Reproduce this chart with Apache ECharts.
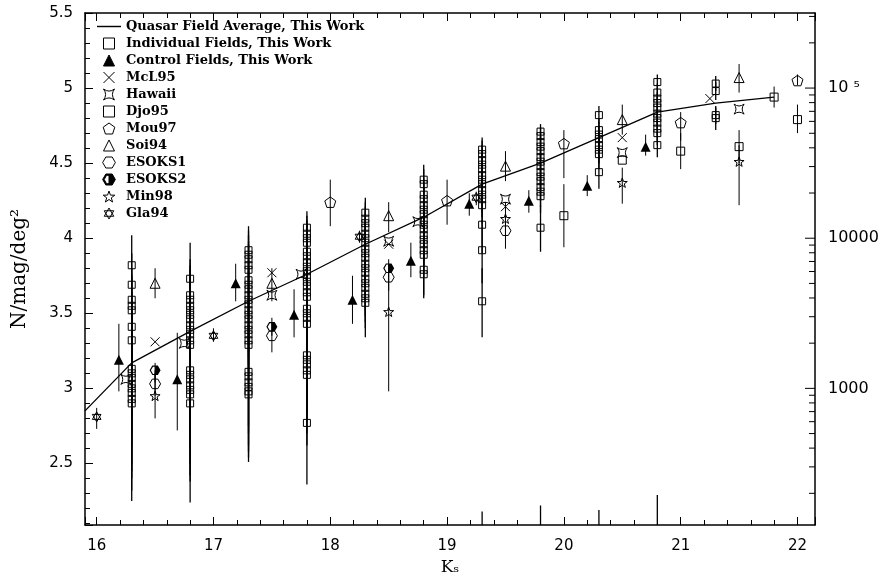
<!DOCTYPE html>
<html>
<head>
<meta charset="utf-8">
<script src="https://cdn.jsdelivr.net/npm/echarts@6/dist/echarts.min.js"></script>
<style>
  html, body { margin: 0; padding: 0; background: #fff; }
  #chart-container { width: 883px; height: 576px; }
</style>
</head>
<body>
<div id="chart-container"></div>
<script>
var dom = document.getElementById("chart-container");
var myChart = echarts.init(dom, null, { renderer: "canvas" });

// each point: [Ks, log N, error low, error high]
var quasarAverage = [
  [15.9, 2.85], [16.3, 3.17], [16.8, 3.38], [17.3, 3.58], [17.8, 3.76],
  [18.3, 3.96], [18.8, 4.14], [19.3, 4.36], [19.8, 4.50], [20.3, 4.67],
  [20.8, 4.84], [21.3, 4.90], [21.8, 4.94]
];

var individualFields = [
  [16.3, 3.82, 3.62, 4.02], [16.3, 3.69, 3.48, 3.90], [16.3, 3.59, 3.38, 3.80], [16.3, 3.55, 3.34, 3.76],
  [16.3, 3.52, 3.30, 3.74], [16.3, 3.41, 3.17, 3.64], [16.3, 3.32, 3.06, 3.56], [16.3, 3.13, 2.78, 3.46],
  [16.3, 3.10, 2.70, 3.46], [16.3, 3.07, 2.62, 3.48], [16.3, 3.03, 2.50, 3.50], [16.3, 3.00, 2.40, 3.54],
  [16.3, 2.97, 2.25, 3.62], [16.3, 2.93, 2.45, 3.38], [16.3, 2.90, 2.32, 3.42],
  [16.8, 3.73, 3.48, 3.97], [16.8, 3.62, 3.38, 3.86], [16.8, 3.59, 3.35, 3.82], [16.8, 3.55, 3.30, 3.79],
  [16.8, 3.52, 3.27, 3.76], [16.8, 3.49, 3.24, 3.73], [16.8, 3.46, 3.20, 3.71], [16.8, 3.42, 3.16, 3.68],
  [16.8, 3.39, 3.12, 3.65], [16.8, 3.36, 3.08, 3.63], [16.8, 3.32, 3.04, 3.60], [16.8, 3.29, 3.00, 3.58],
  [16.8, 3.12, 2.74, 3.48], [16.8, 3.09, 2.68, 3.48], [16.8, 3.06, 2.60, 3.50], [16.8, 3.02, 2.50, 3.52],
  [16.8, 2.99, 2.42, 3.54], [16.8, 2.96, 2.24, 3.62], [16.8, 2.90, 2.38, 3.40],
  [17.3, 3.92, 3.76, 4.08], [17.3, 3.89, 3.73, 4.05], [17.3, 3.86, 3.70, 4.02], [17.3, 3.82, 3.66, 3.98],
  [17.3, 3.79, 3.62, 3.96], [17.3, 3.72, 3.55, 3.90], [17.3, 3.69, 3.51, 3.87], [17.3, 3.66, 3.48, 3.84],
  [17.3, 3.62, 3.44, 3.81], [17.3, 3.59, 3.40, 3.78], [17.3, 3.56, 3.36, 3.76], [17.3, 3.52, 3.32, 3.73],
  [17.3, 3.49, 3.28, 3.70], [17.3, 3.46, 3.24, 3.68], [17.3, 3.42, 3.20, 3.65], [17.3, 3.39, 3.16, 3.62],
  [17.3, 3.36, 3.12, 3.60], [17.3, 3.32, 3.07, 3.57], [17.3, 3.29, 3.03, 3.55], [17.3, 3.11, 2.75, 3.44],
  [17.3, 3.08, 2.70, 3.43], [17.3, 3.04, 2.62, 3.43], [17.3, 3.01, 2.58, 3.42], [17.3, 2.98, 2.51, 3.42],
  [17.3, 2.96, 2.54, 3.36],
  [17.8, 4.07, 3.96, 4.18], [17.8, 4.03, 3.92, 4.15], [17.8, 4.00, 3.88, 4.12], [17.8, 3.97, 3.84, 4.10],
  [17.8, 3.91, 3.78, 4.05], [17.8, 3.88, 3.74, 4.02], [17.8, 3.84, 3.70, 3.99], [17.8, 3.81, 3.66, 3.96],
  [17.8, 3.78, 3.62, 3.94], [17.8, 3.74, 3.58, 3.91], [17.8, 3.71, 3.54, 3.88], [17.8, 3.68, 3.50, 3.86],
  [17.8, 3.64, 3.46, 3.83], [17.8, 3.61, 3.42, 3.80], [17.8, 3.53, 3.32, 3.74], [17.8, 3.50, 3.28, 3.72],
  [17.8, 3.47, 3.24, 3.70], [17.8, 3.43, 3.20, 3.66], [17.8, 3.22, 2.90, 3.52], [17.8, 3.19, 2.84, 3.52],
  [17.8, 3.16, 2.78, 3.52], [17.8, 3.12, 2.70, 3.52], [17.8, 3.09, 2.62, 3.54], [17.8, 2.77, 2.36, 3.10],
  [18.3, 4.17, 4.06, 4.27], [18.3, 4.13, 4.03, 4.24], [18.3, 4.10, 3.99, 4.21], [18.3, 4.07, 3.95, 4.18],
  [18.3, 4.03, 3.91, 4.15], [18.3, 4.00, 3.88, 4.12], [18.3, 3.97, 3.84, 4.10], [18.3, 3.93, 3.80, 4.06],
  [18.3, 3.90, 3.76, 4.04], [18.3, 3.87, 3.72, 4.01], [18.3, 3.83, 3.68, 3.98], [18.3, 3.80, 3.64, 3.96],
  [18.3, 3.77, 3.60, 3.94], [18.3, 3.73, 3.56, 3.90], [18.3, 3.70, 3.52, 3.88], [18.3, 3.67, 3.48, 3.85],
  [18.3, 3.63, 3.44, 3.82], [18.3, 3.60, 3.40, 3.80], [18.3, 3.57, 3.34, 3.78],
  [18.8, 4.39, 4.29, 4.49], [18.8, 4.36, 4.26, 4.46], [18.8, 4.29, 4.18, 4.40], [18.8, 4.26, 4.15, 4.37],
  [18.8, 4.22, 4.11, 4.34], [18.8, 4.19, 4.07, 4.31], [18.8, 4.16, 4.04, 4.28], [18.8, 4.12, 4.00, 4.25],
  [18.8, 4.09, 3.96, 4.22], [18.8, 4.06, 3.93, 4.19], [18.8, 4.02, 3.89, 4.16], [18.8, 3.99, 3.85, 4.13],
  [18.8, 3.96, 3.82, 4.10], [18.8, 3.92, 3.77, 4.07], [18.8, 3.89, 3.74, 4.04], [18.8, 3.79, 3.62, 3.96],
  [18.8, 3.76, 3.60, 3.92],
  [19.3, 4.59, 4.50, 4.67], [19.3, 4.56, 4.47, 4.65], [19.3, 4.52, 4.43, 4.62], [19.3, 4.49, 4.39, 4.59],
  [19.3, 4.46, 4.36, 4.56], [19.3, 4.42, 4.32, 4.53], [19.3, 4.39, 4.28, 4.50], [19.3, 4.36, 4.25, 4.47],
  [19.3, 4.32, 4.21, 4.44], [19.3, 4.29, 4.17, 4.41], [19.3, 4.26, 4.14, 4.38], [19.3, 4.22, 4.10, 4.35],
  [19.3, 4.09, 3.90, 4.26], [19.3, 3.92, 3.70, 4.12], [19.3, 3.58, 3.34, 3.80], [19.3, 1.90, 1.60, 2.18],
  [19.8, 4.71, 4.66, 4.76], [19.8, 4.68, 4.62, 4.74], [19.8, 4.64, 4.58, 4.71], [19.8, 4.61, 4.54, 4.68],
  [19.8, 4.58, 4.51, 4.65], [19.8, 4.54, 4.47, 4.62], [19.8, 4.51, 4.43, 4.59], [19.8, 4.48, 4.40, 4.56],
  [19.8, 4.44, 4.36, 4.53], [19.8, 4.41, 4.32, 4.50], [19.8, 4.38, 4.29, 4.47], [19.8, 4.34, 4.25, 4.44],
  [19.8, 4.31, 4.21, 4.41], [19.8, 4.28, 4.17, 4.39], [19.8, 4.07, 3.91, 4.22], [19.8, 1.90, 1.60, 2.22],
  [20.3, 4.82, 4.76, 4.88], [20.3, 4.72, 4.64, 4.80], [20.3, 4.69, 4.60, 4.77], [20.3, 4.66, 4.57, 4.75],
  [20.3, 4.62, 4.53, 4.71], [20.3, 4.59, 4.50, 4.68], [20.3, 4.56, 4.46, 4.66], [20.3, 4.44, 4.33, 4.55],
  [20.3, 1.90, 1.60, 2.19],
  [20.8, 5.04, 4.99, 5.09], [20.8, 4.97, 4.91, 5.03], [20.8, 4.93, 4.87, 5.00], [20.8, 4.90, 4.83, 4.97],
  [20.8, 4.87, 4.80, 4.94], [20.8, 4.83, 4.76, 4.91], [20.8, 4.80, 4.72, 4.88], [20.8, 4.77, 4.69, 4.85],
  [20.8, 4.73, 4.65, 4.82], [20.8, 4.70, 4.62, 4.79], [20.8, 4.62, 4.54, 4.71], [20.8, 1.90, 1.60, 2.29],
  [21.3, 5.03, 4.98, 5.08], [21.3, 4.98, 4.92, 5.04], [21.3, 4.82, 4.76, 4.88], [21.3, 4.80, 4.72, 4.87]
];

var controlFields = [
  [16.19, 3.19, 2.98, 3.43], [16.69, 3.06, 2.72, 3.37], [17.19, 3.70, 3.58, 3.83], [17.69, 3.49, 3.34, 3.66],
  [18.19, 3.59, 3.43, 3.75], [18.69, 3.85, 3.74, 3.97], [19.19, 4.23, 4.15, 4.30], [19.70, 4.25, 4.17, 4.32],
  [20.20, 4.35, 4.28, 4.42], [20.70, 4.61, 4.55, 4.69]
];

var mcl95 = [
  [16.5, 3.31, null, null], [17.5, 3.77, null, null], [18.5, 3.96, null, null], [19.5, 4.21, null, null],
  [20.5, 4.67, null, null], [21.25, 4.93, null, null]
];

var hawaii = [
  [16.25, 3.06, null, null], [16.75, 3.30, null, null], [17.5, 3.62, null, null], [17.75, 3.76, null, null],
  [18.5, 3.98, null, null], [18.75, 4.11, null, null], [19.5, 4.26, null, null], [20.5, 4.57, null, null],
  [21.5, 4.86, null, null]
];

var djo95 = [
  [20.0, 4.15, 3.94, 4.36], [20.5, 4.52, null, null], [21.0, 4.58, 4.46, 4.70], [21.5, 4.61, 4.50, 4.72],
  [21.8, 4.94, 4.87, 5.01], [22.0, 4.79, 4.70, 4.89]
];

var mou97 = [
  [18.0, 4.24, 4.08, 4.39], [19.0, 4.25, 4.09, 4.39], [20.0, 4.63, 4.40, 4.72], [21.0, 4.77, 4.65, 4.84],
  [22.0, 5.05, 5.02, 5.09]
];

var soi94 = [
  [16.5, 3.70, 3.60, 3.80], [17.5, 3.70, 3.58, 3.80], [18.5, 4.15, 4.04, 4.24], [19.5, 4.48, 4.38, 4.58],
  [20.5, 4.79, 4.69, 4.89], [21.5, 5.07, 4.97, 5.16]
];

var esoks1 = [
  [16.5, 3.03, 2.95, 3.12], [17.5, 3.35, 3.24, 3.44], [18.5, 3.74, 3.65, 3.82], [19.5, 4.05, 3.93, 4.15]
];

var esoks2 = [
  [16.5, 3.12, 3.04, 3.17], [17.5, 3.41, 3.35, 3.47], [18.5, 3.80, 3.74, 3.86]
];

var min98 = [
  [16.5, 2.95, 2.80, 3.10], [18.5, 3.51, 2.98, 3.74], [19.5, 4.13, 4.02, 4.24], [20.5, 4.37, 4.23, 4.47],
  [21.5, 4.51, 4.22, 4.62]
];

var gla94 = [
  [16.0, 2.81, 2.73, 2.87], [17.0, 3.35, 3.31, 3.40], [18.25, 4.01, 3.97, 4.05], [19.25, 4.27, 4.22, 4.31]
];

// right hand axis, N per mag per deg^2
var rightTickValues = [
  200, 300, 400, 500, 600, 700, 800, 900, 1000,
  2000, 3000, 4000, 5000, 6000, 7000, 8000, 9000, 10000,
  20000, 30000, 40000, 50000, 60000, 70000, 80000, 90000, 100000,
  200000, 300000
];
var rightLabels = { 3: "1000", 4: "10000", 5: "10 \u2075" };

var xMin = 15.9, xMax = 22.15, yMin = 2.09, yMax = 5.5;

var SYM = {
  square: "path://M0,0H100V100H0Z",
  triangle: "path://M50,0L100,100H0Z",
  cross: "path://M0,0L100,100M100,0L0,100",
  hawaii: "path://M0,0Q50,38 100,0Q62,50 100,100Q50,62 0,100Q38,50 0,0Z",
  pentagon: "path://M50,0L100,36.3L80.9,95.1L19.1,95.1L0,36.3Z",
  hexagon: "path://M0,50L25,6.7L75,6.7L100,50L75,93.3L25,93.3Z",
  halfHexagon: "path://M0,50L25,6.7L75,6.7L100,50L75,93.3L25,93.3Z M12,50L31,83L50,83L50,17L31,17Z",
  star5: "path://M50,0L61.8,33.8L97.6,34.5L69,56.2L79.4,90.5L50,70L20.6,90.5L31,56.2L2.4,34.5L38.2,33.8Z",
  star6: "path://M50,0L93.3,75H6.7Z M50,100L6.7,25H93.3Z",
  dash: "path://M0,47H100V53H0Z"
};

var pointSets = [
  { name: "Individual Fields, This Work", data: individualFields, symbol: SYM.square, size: 7, filled: false, bar: 1.3 },
  { name: "Control Fields, This Work", data: controlFields, symbol: SYM.triangle, size: 10, filled: true, bar: 1 },
  { name: "McL95", data: mcl95, symbol: SYM.cross, size: 9, filled: false, bar: 1 },
  { name: "Hawaii", data: hawaii, symbol: SYM.hawaii, size: 10, filled: false, bar: 1 },
  { name: "Djo95", data: djo95, symbol: SYM.square, size: 8, filled: false, bar: 1 },
  { name: "Mou97", data: mou97, symbol: SYM.pentagon, size: 11, filled: false, bar: 1 },
  { name: "Soi94", data: soi94, symbol: SYM.triangle, size: 10, filled: false, bar: 1 },
  { name: "ESOKS1", data: esoks1, symbol: SYM.hexagon, size: 11, filled: false, bar: 1 },
  { name: "ESOKS2", data: esoks2, symbol: SYM.halfHexagon, size: 11, filled: true, bar: 1 },
  { name: "Min98", data: min98, symbol: SYM.star5, size: 10, filled: false, bar: 1 },
  { name: "Gla94", data: gla94, symbol: SYM.star6, size: 10, filled: false, bar: 1 }
];

function makeErrorBarRenderer(width) {
  return function (params, api) {
    var lo = api.value(2);
    var hi = api.value(3);
    if (isNaN(lo) || isNaN(hi)) return null;
    var a = api.coord([api.value(0), lo]);
    var b = api.coord([api.value(0), hi]);
    return {
      type: "line",
      shape: { x1: a[0], y1: a[1], x2: b[0], y2: b[1] },
      style: { stroke: "#000", lineWidth: width }
    };
  };
}

function renderRightTick(params, api) {
  var v = api.value(2);
  var p = api.coord([api.value(0), api.value(1)]);
  var major = Math.abs(Math.log10(v) - Math.round(Math.log10(v))) < 1e-9;
  var len = major ? 10 : 6;
  return {
    type: "line",
    shape: { x1: p[0], y1: p[1], x2: p[0] - len, y2: p[1] },
    style: { stroke: "#000", lineWidth: 1 }
  };
}

var series = [
  {
    name: "Quasar Field Average, This Work",
    type: "line",
    data: quasarAverage,
    symbol: "none",
    showSymbol: false,
    clip: true,
    z: 4,
    lineStyle: { color: "#000", width: 1.3 },
    itemStyle: { color: "#000" }
  }
];

pointSets.forEach(function (s) {
  series.push({
    name: s.name,
    type: "scatter",
    data: s.data,
    encode: { x: 0, y: 1 },
    symbol: s.symbol,
    symbolSize: s.size,
    symbolKeepAspect: true,
    clip: true,
    z: 3,
    itemStyle: {
      color: s.filled ? "#000" : "rgba(0,0,0,0)",
      borderColor: "#000",
      borderWidth: s.filled ? 0 : 1,
      opacity: 1
    }
  });
  series.push({
    type: "custom",
    data: s.data,
    encode: { x: 0, y: 1 },
    renderItem: makeErrorBarRenderer(s.bar),
    clip: true,
    silent: true,
    z: 2
  });
});

series.push({
  type: "custom",
  data: rightTickValues.map(function (v) { return [xMax, Math.log10(v), v]; }),
  encode: { x: 0, y: 1 },
  renderItem: renderRightTick,
  clip: false,
  silent: true,
  z: 5
});

var legendNames = [{
  name: "Quasar Field Average, This Work",
  icon: SYM.dash,
  itemStyle: { color: "#000", borderWidth: 0 }
}].concat(pointSets.map(function (s) { return s.name; }));

var axisLineStyle = { color: "#000", width: 1.5 };
var tickStyle = { color: "#000", width: 1 };

var option = {
  animation: false,
  backgroundColor: "#fff",
  grid: { left: 85, right: 68, top: 13, bottom: 51, containLabel: false, outerBoundsMode: "none" },
  legend: {
    orient: "vertical",
    left: 92,
    top: 15,
    itemWidth: 24,
    itemHeight: 11,
    itemGap: 4,
    selectedMode: false,
    itemStyle: { borderWidth: 1 },
    textStyle: {
      color: "#000",
      fontFamily: "DejaVu Serif",
      fontWeight: "bold",
      fontSize: 13,
      lineHeight: 11
    },
    data: legendNames
  },
  xAxis: [
    {
      type: "value",
      position: "bottom",
      min: xMin,
      max: xMax,
      splitNumber: 6,
      axisLine: { onZero: false, lineStyle: axisLineStyle },
      axisTick: { inside: true, length: 8, lineStyle: tickStyle },
      minorTick: { show: true, splitNumber: 5, length: 5, lineStyle: tickStyle },
      splitLine: { show: false },
      axisLabel: {
        color: "#000", fontFamily: "DejaVu Sans", fontSize: 15, margin: 14,
        showMinLabel: false, showMaxLabel: false
      },
      name: "K\u209B",
      nameLocation: "middle",
      nameGap: 34,
      nameTextStyle: { color: "#000", fontFamily: "DejaVu Serif", fontSize: 17 }
    },
    {
      type: "value",
      position: "top",
      min: xMin,
      max: xMax,
      splitNumber: 6,
      axisLine: { onZero: false, lineStyle: axisLineStyle },
      axisTick: { inside: true, length: 8, lineStyle: tickStyle },
      minorTick: { show: true, splitNumber: 5, length: 5, lineStyle: tickStyle },
      splitLine: { show: false },
      axisLabel: { show: false }
    }
  ],
  yAxis: [
    {
      type: "value",
      position: "left",
      min: yMin,
      max: yMax,
      splitNumber: 7,
      axisLine: { onZero: false, lineStyle: axisLineStyle },
      axisTick: { inside: true, length: 8, lineStyle: tickStyle },
      minorTick: { show: true, splitNumber: 5, length: 5, lineStyle: tickStyle },
      splitLine: { show: false },
      axisLabel: {
        color: "#000", fontFamily: "DejaVu Sans", fontSize: 15, margin: 12,
        showMinLabel: false
      },
      name: "N/mag/deg\u00B2",
      nameLocation: "middle",
      nameGap: 55,
      nameTextStyle: { color: "#000", fontFamily: "DejaVu Serif", fontSize: 20 }
    },
    {
      type: "value",
      position: "right",
      min: yMin,
      max: yMax,
      splitNumber: 7,
      axisLine: { onZero: false, lineStyle: axisLineStyle },
      axisTick: { show: false },
      splitLine: { show: false },
      axisLabel: {
        color: "#000", fontFamily: "DejaVu Sans", fontSize: 16, margin: 13,
        showMinLabel: false,
        formatter: function (v) { return rightLabels[v] || ""; }
      }
    }
  ],
  series: series
};

myChart.setOption(option);
window.addEventListener("resize", myChart.resize);
</script>
</body>
</html>
